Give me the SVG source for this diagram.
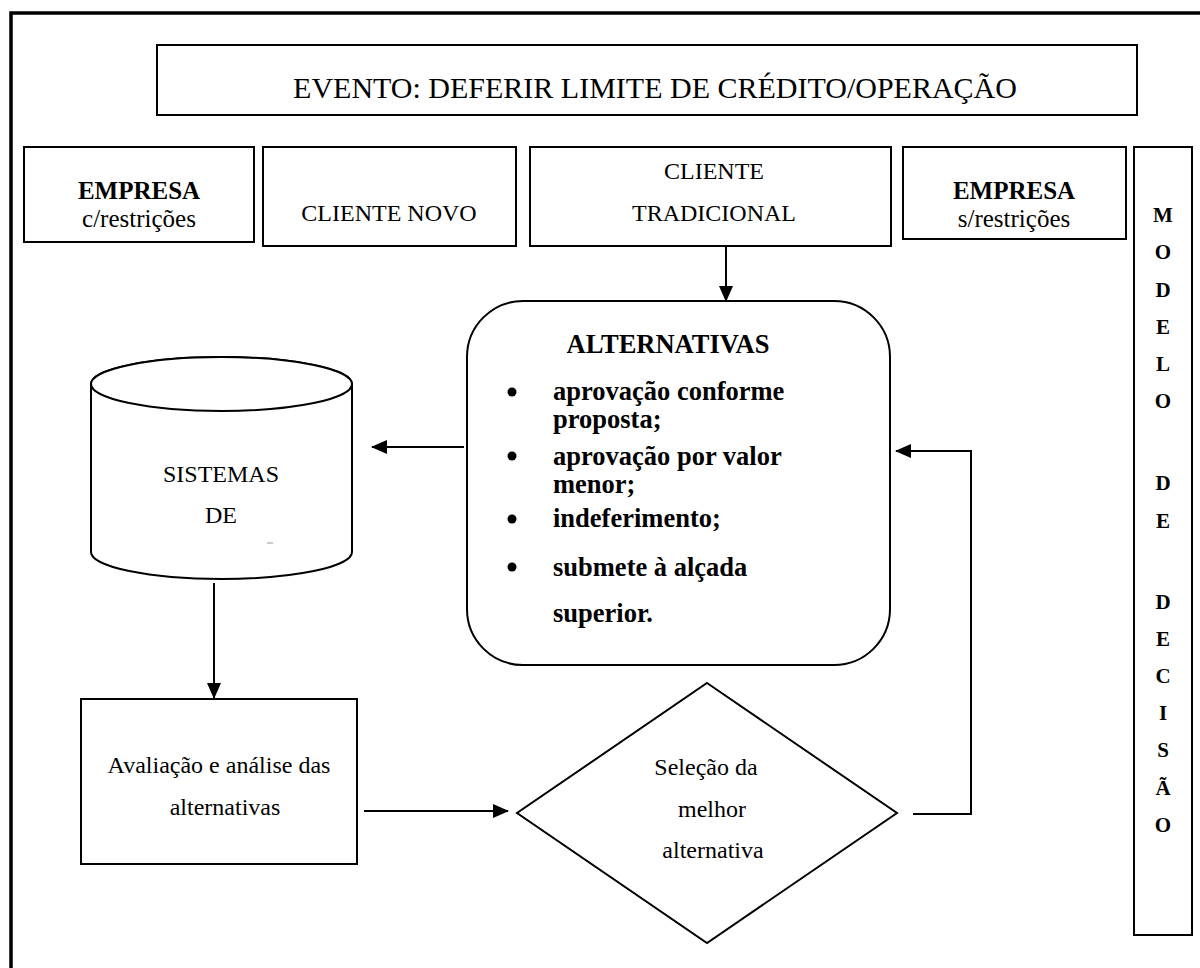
<svg xmlns="http://www.w3.org/2000/svg" width="1200" height="968" viewBox="0 0 1200 968">
  <style>
    .box { fill: #fff; stroke: #000; stroke-width: 2; }
    .frame { fill: none; stroke: #000; stroke-width: 3.5; }
    .link { fill: none; stroke: #000; stroke-width: 2; }
    .t { fill: #000; text-anchor: middle; }
    .b { font-weight: bold; }
    .l { text-anchor: start; }
  </style>
  <defs>
    <marker id="arrow" markerUnits="userSpaceOnUse" markerWidth="16" markerHeight="14" refX="15" refY="7" orient="auto">
      <path d="M0,0 L16,7 L0,14 Z" fill="#000"/>
    </marker>
  </defs>

  <rect width="1200" height="968" fill="#fff"/>

  <!-- outer frame (left and top edges) -->
  <path class="frame" d="M11,968 V13 H1200"/>

  <g font-family="'Liberation Serif', 'Times New Roman', Times, serif">

  <g id="evento">
    <rect class="box" x="157" y="45" width="980" height="70"/>
    <text class="t" x="655" y="98" font-size="30">EVENTO: DEFERIR LIMITE DE CRÉDITO/OPERAÇÃO</text>
  </g>

  <g id="empresa-c">
    <rect class="box" x="24" y="147" width="230" height="95"/>
    <text class="t b" x="139" y="199" font-size="25">EMPRESA</text>
    <text class="t" x="139" y="227" font-size="25">c/restrições</text>
  </g>

  <g id="cliente-novo">
    <rect class="box" x="263" y="147" width="253" height="99"/>
    <text class="t" x="389" y="221" font-size="24">CLIENTE NOVO</text>
  </g>

  <g id="cliente-tradicional">
    <rect class="box" x="530" y="147" width="361" height="99"/>
    <text class="t" x="714" y="179" font-size="24">CLIENTE</text>
    <text class="t" x="714" y="221" font-size="24">TRADICIONAL</text>
  </g>

  <g id="empresa-s">
    <rect class="box" x="903" y="147" width="223" height="92"/>
    <text class="t b" x="1014" y="199" font-size="25">EMPRESA</text>
    <text class="t" x="1014" y="227" font-size="25">s/restrições</text>
  </g>

  <g id="modelo-decisao">
    <rect class="box" x="1134" y="147" width="58" height="788"/>
    <g class="t b" font-size="21">
      <text x="1163" y="222">M</text>
      <text x="1163" y="259">O</text>
      <text x="1163" y="297">D</text>
      <text x="1163" y="334">E</text>
      <text x="1163" y="371">L</text>
      <text x="1163" y="408">O</text>
      <text x="1163" y="490">D</text>
      <text x="1163" y="528">E</text>
      <text x="1163" y="609">D</text>
      <text x="1163" y="646">E</text>
      <text x="1163" y="683">C</text>
      <text x="1163" y="720">I</text>
      <text x="1163" y="757">S</text>
      <text x="1163" y="795">Ã</text>
      <text x="1163" y="832">O</text>
    </g>
  </g>

  <g id="alternativas">
    <rect class="box" x="467" y="301" width="423" height="364" rx="56" ry="56"/>
    <text class="t b" x="668" y="353" font-size="26.5">ALTERNATIVAS</text>
    <g class="t b l" font-size="26.5">
      <circle cx="512" cy="392" r="4.5"/>
      <text x="553" y="400">aprovação conforme</text>
      <text x="553" y="428">proposta;</text>
      <circle cx="512" cy="456" r="4.5"/>
      <text x="553" y="465">aprovação por valor</text>
      <text x="553" y="493">menor;</text>
      <circle cx="512" cy="519" r="4.5"/>
      <text x="553" y="527">indeferimento;</text>
      <circle cx="512" cy="567" r="4.5"/>
      <text x="553" y="576">submete à alçada</text>
      <text x="553" y="622">superior.</text>
    </g>
  </g>

  <g id="sistemas">
    <path class="box" d="M91,384 V552 A130.5,27 0 0 0 352,552 V384 A130.5,27 0 0 0 91,384 Z"/>
    <ellipse class="box" cx="221.5" cy="384" rx="130.5" ry="27" fill="none"/>
    <text class="t" x="221" y="482" font-size="24">SISTEMAS</text>
    <text class="t" x="221" y="523" font-size="24">DE</text>
    <line x1="267" y1="543" x2="273" y2="543" stroke="#999" stroke-width="1"/>
  </g>

  <g id="avaliacao">
    <rect class="box" x="81" y="699" width="276" height="165"/>
    <text class="t" x="219" y="773" font-size="24">Avaliação e análise das</text>
    <text class="t" x="225" y="815" font-size="24">alternativas</text>
  </g>

  <g id="selecao">
    <polygon class="box" points="707,683 897,813 707,943 517,813"/>
    <text class="t" x="706" y="775" font-size="24">Seleção da</text>
    <text class="t" x="712" y="817" font-size="24">melhor</text>
    <text class="t" x="713" y="858" font-size="24">alternativa</text>
  </g>

  </g>

  <g id="connectors">
    <line class="link" x1="726" y1="247" x2="726" y2="301" marker-end="url(#arrow)"/>
    <line class="link" x1="464" y1="447" x2="372" y2="447" marker-end="url(#arrow)"/>
    <line class="link" x1="214" y1="583" x2="214" y2="698" marker-end="url(#arrow)"/>
    <line class="link" x1="364" y1="811" x2="508" y2="811" marker-end="url(#arrow)"/>
    <polyline class="link" points="913,814 971,814 971,451 896,451" marker-end="url(#arrow)"/>
  </g>
</svg>
